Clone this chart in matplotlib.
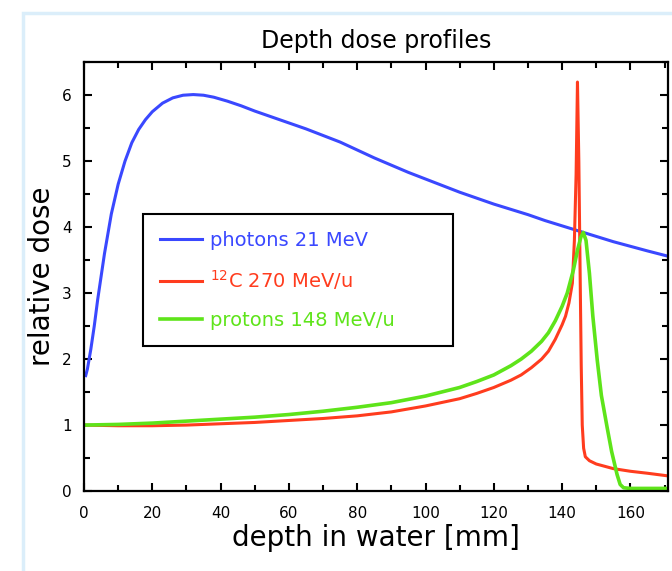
import matplotlib.pyplot as plt
import matplotlib.patches as patches
from matplotlib.ticker import MultipleLocator

# photons 21 MeV
photon_x = [0.5, 1, 2, 3, 4, 5, 6, 8, 10, 12, 14, 16, 18, 20, 23, 26, 29, 32, 35,
            38, 42, 46, 50, 55, 60, 65, 70, 75, 80, 85, 90, 95, 100, 105, 110, 115,
            120, 125, 130, 135, 140, 145, 150, 155, 160, 165, 171]
photon_y = [1.75, 1.85, 2.15, 2.5, 2.9, 3.25, 3.6, 4.2, 4.65, 5.0, 5.28, 5.48, 5.63,
            5.75, 5.88, 5.96, 6.0, 6.01, 6.0, 5.97, 5.91, 5.84, 5.76, 5.67, 5.58,
            5.49, 5.39, 5.29, 5.17, 5.05, 4.94, 4.83, 4.73, 4.63, 4.53, 4.44, 4.35,
            4.27, 4.19, 4.1, 4.02, 3.94, 3.86, 3.78, 3.71, 3.64, 3.56]

# 12C 270 MeV/u
carbon_x = [0, 10, 20, 30, 40, 50, 60, 70, 80, 90, 100, 110, 115, 120, 125, 128,
            131, 134, 136, 138, 140, 141, 142, 143, 143.6, 144.1, 144.5, 144.9,
            145.3, 145.6, 145.9, 146.3, 146.8, 148, 150, 155, 160, 165, 171]
carbon_y = [1.0, 0.99, 0.99, 1.0, 1.02, 1.04, 1.07, 1.1, 1.14, 1.2, 1.29, 1.4, 1.48,
            1.57, 1.68, 1.76, 1.87, 2.0, 2.12, 2.3, 2.52, 2.65, 2.85, 3.15, 3.8, 4.8,
            6.2, 5.0, 3.2, 1.9, 1.0, 0.65, 0.52, 0.46, 0.41, 0.34, 0.3, 0.27, 0.23]

# protons 148 MeV/u
proton_x = [0, 10, 20, 30, 40, 50, 60, 70, 80, 90, 100, 110, 115, 120, 125, 128,
            131, 134, 136, 138, 140, 141.5, 143.3, 144.5, 145.5, 146.2, 147, 148,
            149, 150.3, 151.5, 153.2, 154.5, 156.1, 157, 158, 160, 165, 171]
proton_y = [1.0, 1.01, 1.03, 1.06, 1.09, 1.12, 1.16, 1.21, 1.27, 1.34, 1.44, 1.57,
            1.66, 1.76, 1.9, 2.0, 2.12, 2.27, 2.4, 2.58, 2.8, 3.0, 3.35, 3.65, 3.85,
            3.92, 3.8, 3.3, 2.65, 1.98, 1.45, 0.96, 0.6, 0.25, 0.1, 0.05, 0.04, 0.04,
            0.04]

labels = ['photons 21 MeV', '$^{12}$C 270 MeV/u', 'protons 148 MeV/u']
colors = ['#3a48ff', '#ff3c1e', '#5ee41a']

fig = plt.figure(figsize=(6.72, 5.71), dpi=100)
fig.patches.append(patches.Rectangle((0.034, -0.05), 1.1, 1.027, transform=fig.transFigure,
                                     fill=False, edgecolor='#dbeefa', linewidth=2.5))
ax = fig.add_axes([0.125, 0.14, 0.869, 0.751])

ax.plot(photon_x, photon_y, color=colors[0], lw=2.2, label=labels[0])
ax.plot(carbon_x, carbon_y, color=colors[1], lw=2.2, label=labels[1])
ax.plot(proton_x, proton_y, color=colors[2], lw=2.6, label=labels[2])

ax.set_xlim(0, 171)
ax.set_ylim(0, 6.5)
ax.xaxis.set_major_locator(MultipleLocator(20))
ax.xaxis.set_minor_locator(MultipleLocator(10))
ax.yaxis.set_major_locator(MultipleLocator(1))
ax.yaxis.set_minor_locator(MultipleLocator(0.5))
ax.tick_params(which='both', direction='in', top=True, right=True, width=1.5)
ax.tick_params(which='major', length=6, labelsize=11)
ax.tick_params(axis='x', which='major', pad=11)
ax.tick_params(axis='y', which='major', pad=9)
ax.tick_params(which='minor', length=4)
for s in ax.spines.values():
    s.set_linewidth(1.6)

ax.set_title('Depth dose profiles', fontsize=17, pad=10)
ax.set_xlabel('depth in water [mm]', fontsize=20, labelpad=2)
ax.set_ylabel('relative dose', fontsize=20, labelpad=4)

leg = ax.legend(loc='center', bbox_to_anchor=(0.101, 0.329, 0.531, 0.326), mode='expand',
                fontsize=14, handlelength=2.2, handletextpad=0.4, labelspacing=0.95,
                fancybox=False, edgecolor='black', framealpha=1, borderpad=0.85,
                borderaxespad=0)
leg.get_frame().set_linewidth(1.5)
for txt, c in zip(leg.get_texts(), colors):
    txt.set_color(c)

fig.savefig('out.png', dpi=100)
